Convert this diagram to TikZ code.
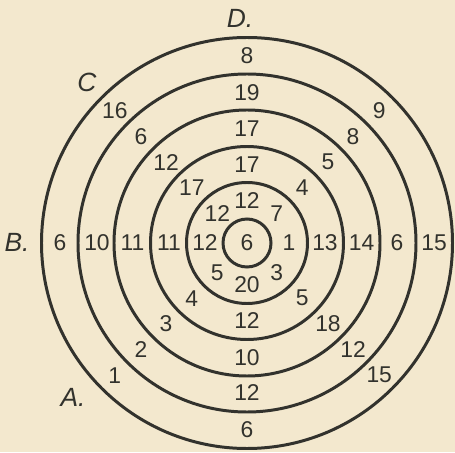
\documentclass[tikz,border=0pt]{standalone}
\usepackage{fontspec}
\setmainfont{Liberation Sans}
\usetikzlibrary{positioning}
\definecolor{paper}{RGB}{243,232,206}
\definecolor{ink}{RGB}{50,50,45}

\begin{document}
\begin{tikzpicture}[
    ring/.style={draw=ink, line width=1.7pt},
    score/.style={text=ink, font=\fontsize{13}{15}\selectfont, inner sep=0pt},
    side/.style={text=ink, font=\fontsize{15}{17}\selectfont\itshape, inner sep=0pt},
]
    % Paper
    \fill[paper] (-4.94,-4.18) rectangle (4.16,4.86);
    \useasboundingbox (-4.94,-4.18) rectangle (4.16,4.86);

    % Rings
    \foreach \r in {0.48,1.21,1.93,2.66,3.38,4.11}
        \draw[ring] (0,0) circle (\r);

    % Centre
    \node[score] (n0) at (0,0) {6};

    % Scores in each band, clockwise from the top
    \foreach \rad/\vals [count=\b] in {
        0.84/{12,7,1,3,20,5,12,12},
        1.56/{17,4,13,5,12,4,11,17},
        2.29/{17,5,14,18,10,3,11,12},
        3.00/{19,8,6,12,12,2,10,6},
        3.74/{8,9,15,15,6,1,6,16}}
        \foreach \v [count=\k] in \vals
            \node[score] (n\b-\k) at ({90-45*(\k-1)}:\rad) {\v};

    % Side letters
    \node[side] (d) at (-0.14,4.50) {D.};
    \node[side] (c) at (-3.20,3.22) {C};
    \node[side] (b) at (-4.60,0.02) {B.};
    \node[side] (a) at (-3.48,-3.08) {A.};
\end{tikzpicture}
\end{document}
